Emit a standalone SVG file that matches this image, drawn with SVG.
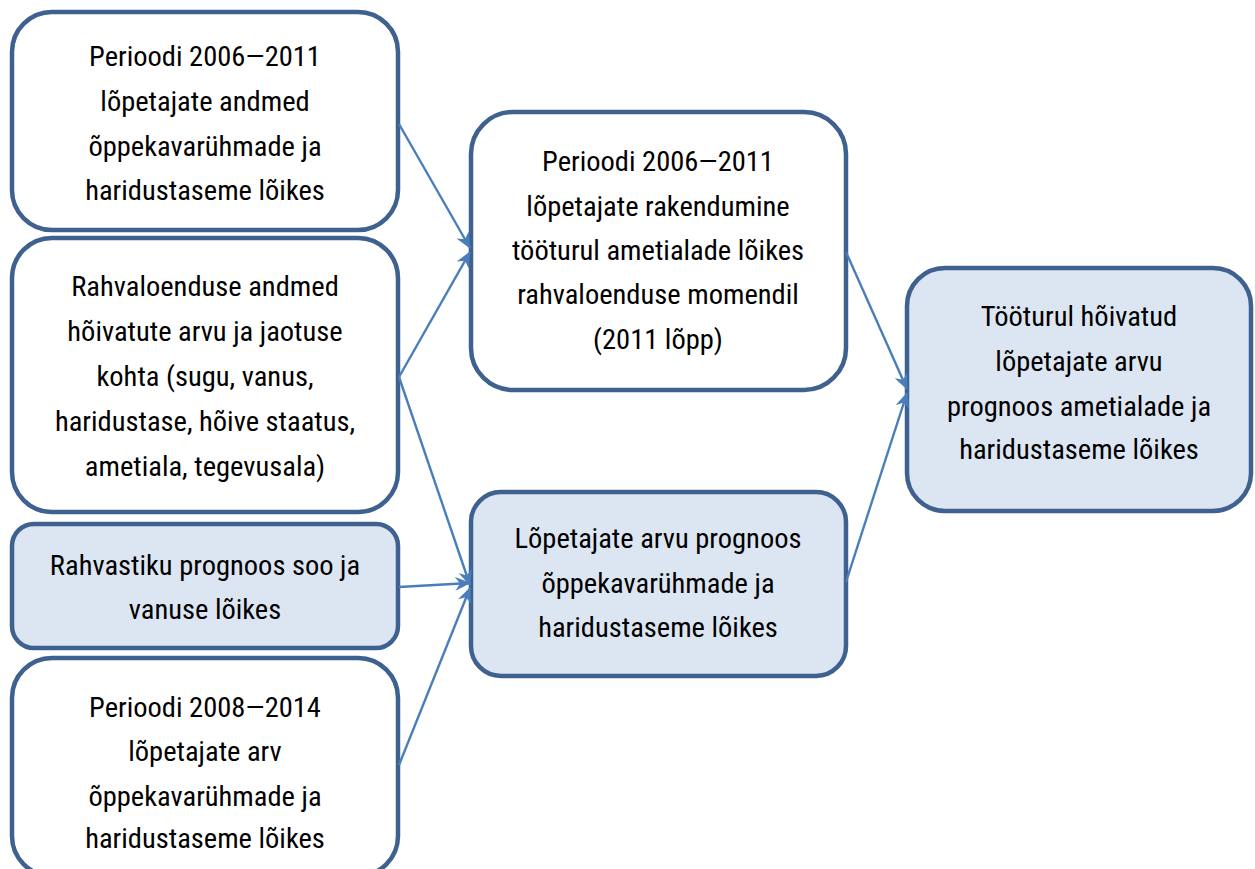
<svg xmlns="http://www.w3.org/2000/svg" width="1255" height="869" viewBox="0 0 1255 869">
<style>
.box{fill:#ffffff;stroke:#3e6190;stroke-width:4.5}
.fill{fill:#dce6f2}
text{font-family:"Roboto Condensed",Roboto,"Liberation Sans Narrow",sans-serif;font-stretch:condensed;font-size:28.5px;fill:#000;text-anchor:middle}
.c line{stroke:#4a7ebb;stroke-width:2.4;marker-end:url(#ah)}
</style>
<defs>
<marker id="ah" viewBox="0 0 16 14" refX="15" refY="7" markerWidth="16" markerHeight="14" markerUnits="userSpaceOnUse" orient="auto">
<path d="M0,0 L16,7 L0,14 L5,7 Z" fill="#4a7ebb"/>
</marker>
</defs>
<rect width="1255" height="869" fill="#fff"/>
<g id="n1"><rect class="box" x="12" y="12" width="386" height="218" rx="40"/>
<text x="205" y="66">Perioodi 2006—2011</text><text x="205" y="111">lõpetajate andmed</text><text x="205" y="156">õppekavarühmade ja</text><text x="205" y="200">haridustaseme lõikes</text></g>
<g id="n2"><rect class="box" x="12" y="238" width="386" height="274" rx="40"/>
<text x="205" y="296">Rahvaloenduse andmed</text><text x="205" y="341">hõivatute arvu ja jaotuse</text><text x="205" y="386">kohta (sugu, vanus,</text><text x="205" y="431">haridustase, hõive staatus,</text><text x="205" y="476">ametiala, tegevusala)</text></g>
<g id="n3"><rect class="box fill" x="12" y="524" width="386" height="124" rx="22"/>
<text x="205" y="575">Rahvastiku prognoos soo ja</text><text x="205" y="619">vanuse lõikes</text></g>
<g id="n4"><rect class="box" x="12" y="658" width="386" height="218" rx="40"/>
<text x="205" y="717">Perioodi 2008—2014</text><text x="205" y="761">lõpetajate arv</text><text x="205" y="806">õppekavarühmade ja</text><text x="205" y="848">haridustaseme lõikes</text></g>
<g id="n5"><rect class="box" x="471" y="112" width="375" height="278" rx="42"/>
<text x="658" y="171">Perioodi 2006—2011</text><text x="658" y="216">lõpetajate rakendumine</text><text x="658" y="260">tööturul ametialade lõikes</text><text x="658" y="304">rahvaloenduse momendil</text><text x="658" y="349">(2011 lõpp)</text></g>
<g id="n6"><rect class="box fill" x="471" y="492" width="375" height="184" rx="30"/>
<text x="658" y="548">Lõpetajate arvu prognoos</text><text x="658" y="593">õppekavarühmade ja</text><text x="658" y="637">haridustaseme lõikes</text></g>
<g id="n7"><rect class="box fill" x="907" y="268" width="344" height="243" rx="38"/>
<text x="1079" y="326">Tööturul hõivatud</text><text x="1079" y="371">lõpetajate arvu</text><text x="1079" y="416">prognoos ametialade ja</text><text x="1079" y="459">haridustaseme lõikes</text></g>
<g id="connectors" class="c">
<line x1="399" y1="124" x2="470" y2="248"/>
<line x1="399" y1="377" x2="470" y2="252"/>
<line x1="399" y1="377" x2="470" y2="585"/>
<line x1="399" y1="587" x2="470" y2="583"/>
<line x1="399" y1="765" x2="470" y2="588"/>
<line x1="846" y1="252" x2="907" y2="389"/>
<line x1="846" y1="582" x2="907" y2="393"/>
</g>
</svg>
